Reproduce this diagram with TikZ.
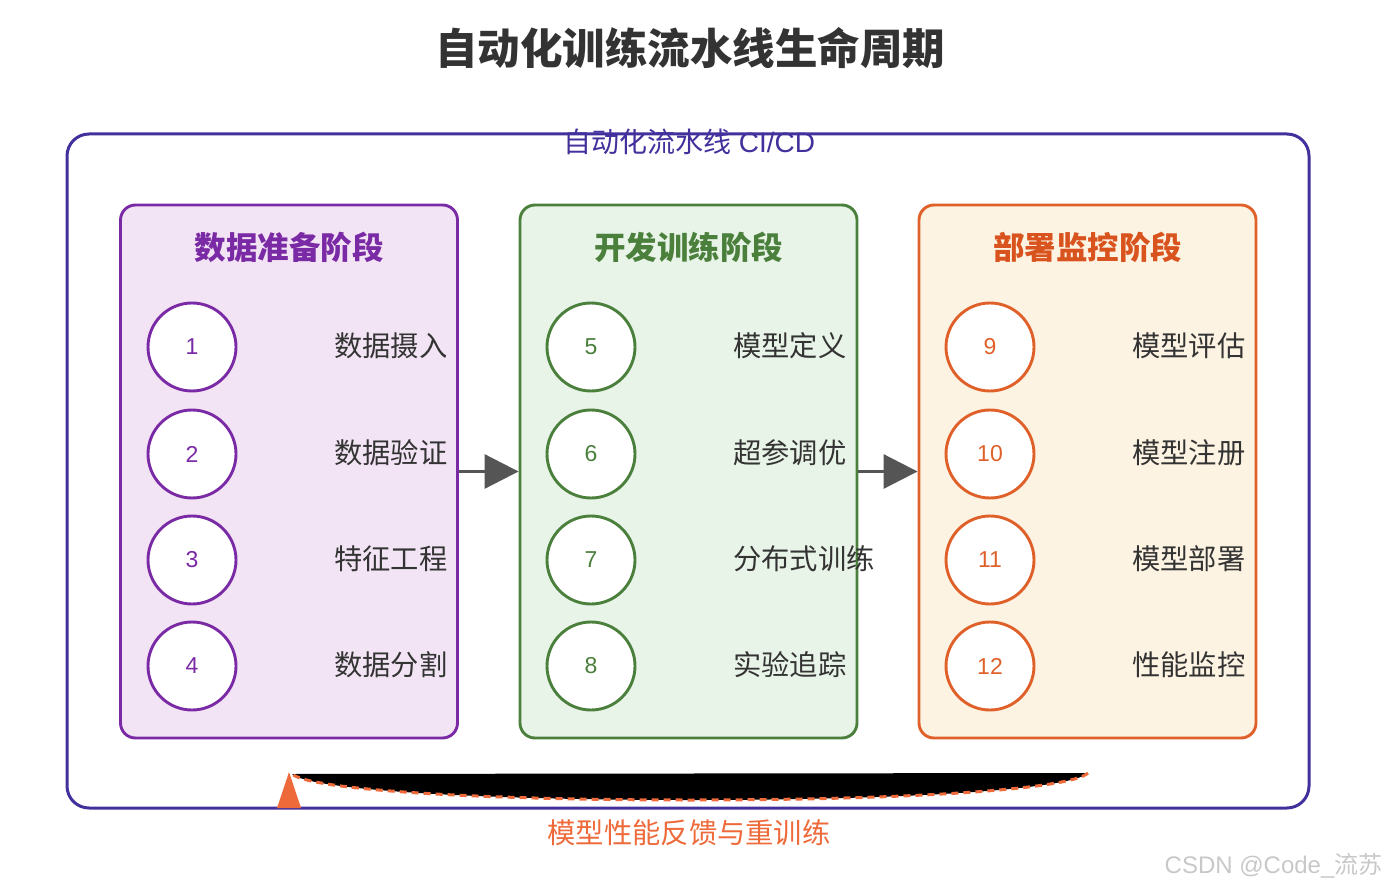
\documentclass[tikz,border=0pt]{standalone}
\usepackage{fontspec}
\setmainfont{Liberation Sans}
\newfontfamily\cjk{Noto Sans CJK SC}
\usetikzlibrary{arrows.meta}
\definecolor{outerc}{HTML}{43309C}
\definecolor{pstroke}{HTML}{7B2AA5}
\definecolor{pfill}{HTML}{F2E4F4}
\definecolor{gstroke}{HTML}{4A7F3C}
\definecolor{gfill}{HTML}{E9F4E8}
\definecolor{ostroke}{HTML}{E0602A}
\definecolor{ofill}{HTML}{FDF3E3}
\definecolor{otitle}{HTML}{D9531E}
\definecolor{txt}{HTML}{333333}
\definecolor{arr}{HTML}{555555}
\definecolor{fbc}{HTML}{EE6A3A}
\definecolor{wm}{HTML}{C8C8C8}
\tikzset{
  stagebox/.style={draw=#1, line width=2.9pt, rounded corners=15pt, minimum width=337pt, minimum height=533pt, inner sep=0pt},
  stagetitle/.style={text=#1, font=\cjk\bfseries\fontsize{31.5}{35}\selectfont},
  stepcirc/.style={circle, draw=#1, fill=white, line width=2.9pt, minimum size=88pt, inner sep=0pt, text=#1, font=\fontsize{23}{27}\selectfont},
  steplabel/.style={anchor=west, text=txt, font=\cjk\fontsize{28.3}{32}\selectfont, inner sep=0pt},
  flowarrow/.style={draw=arr, line width=3pt, -{Triangle[length=34pt,width=34pt]}},
}
\begin{document}
\begin{tikzpicture}[x=1pt,y=-1pt]
\useasboundingbox (0,0) rectangle (1389,890);
% title
\node[text=txt, font=\cjk\bfseries\fontsize{42.5}{47}\selectfont] (title) at (690,48) {自动化训练流水线生命周期};
% outer box
\node[draw=outerc, line width=3pt, rounded corners=22pt, minimum width=1242pt, minimum height=674pt, inner sep=0pt] (outer) at (688,471) {};
\node[text=outerc, font=\fontsize{28}{32}\selectfont] (outerlbl) at (689,142) {{\cjk 自动化流水线} CI/CD};
% stage boxes
\node[stagebox=pstroke, fill=pfill] (b1) at (289,471.5) {};
\node[stagebox=gstroke, fill=gfill] (b2) at (688.5,471.5) {};
\node[stagebox=ostroke, fill=ofill] (b3) at (1087.5,471.5) {};
\node[stagetitle=pstroke] (t1) at (289,247) {数据准备阶段};
\node[stagetitle=gstroke] (t2) at (688.5,247) {开发训练阶段};
\node[stagetitle=otitle] (t3) at (1087.5,247) {部署监控阶段};
% stage 1
\node[stepcirc=pstroke] (c1) at (192,347) {1};
\node[stepcirc=pstroke] (c2) at (192,454) {2};
\node[stepcirc=pstroke] (c3) at (192,560) {3};
\node[stepcirc=pstroke] (c4) at (192,666) {4};
\node[steplabel] (l1) at (334,346) {数据摄入};
\node[steplabel] (l2) at (334,453) {数据验证};
\node[steplabel] (l3) at (334,559) {特征工程};
\node[steplabel] (l4) at (334,665) {数据分割};
% stage 2
\node[stepcirc=gstroke] (c5) at (591,347) {5};
\node[stepcirc=gstroke] (c6) at (591,454) {6};
\node[stepcirc=gstroke] (c7) at (591,560) {7};
\node[stepcirc=gstroke] (c8) at (591,666) {8};
\node[steplabel] (l5) at (733,346) {模型定义};
\node[steplabel] (l6) at (733,453) {超参调优};
\node[steplabel] (l7) at (733,559) {分布式训练};
\node[steplabel] (l8) at (733,665) {实验追踪};
% stage 3
\node[stepcirc=ostroke] (c9) at (990,347) {9};
\node[stepcirc=ostroke] (c10) at (990,454) {10};
\node[stepcirc=ostroke] (c11) at (990,560) {11};
\node[stepcirc=ostroke] (c12) at (990,666) {12};
\node[steplabel] (l9) at (1132,346) {模型评估};
\node[steplabel] (l10) at (1132,453) {模型注册};
\node[steplabel] (l11) at (1132,559) {模型部署};
\node[steplabel] (l12) at (1132,665) {性能监控};
% arrows between stages
\draw[flowarrow] (b1.east) -- (b2.west);
\draw[flowarrow] (b2.east) -- (b3.west);
% feedback loop
\coordinate (fbs) at (1088,773);
\coordinate (fbm) at (690,800);
\coordinate (fbe) at (292,774);
\fill[black] (fbs) .. controls (1070,790) and (900,800) .. (fbm) .. controls (480,800) and (310,790) .. (fbe) -- cycle;
\draw[fbc, line width=3pt, dash pattern=on 7pt off 5pt] (fbs) .. controls (1070,790) and (900,800) .. (fbm) .. controls (480,800) and (310,790) .. (fbe);
\coordinate (tip) at (289,772);
\fill[fbc] (tip) -- (301,808) -- (277,808) -- cycle;
\node[text=fbc, font=\cjk\fontsize{28.3}{32}\selectfont] (fblbl) at (689,833) {模型性能反馈与重训练};
% watermark
\node[text=wm, font=\fontsize{24}{28}\selectfont, anchor=east] (wmk) at (1386,866) {CSDN @Code\_{\cjk 流苏}};
\end{tikzpicture}
\end{document}
